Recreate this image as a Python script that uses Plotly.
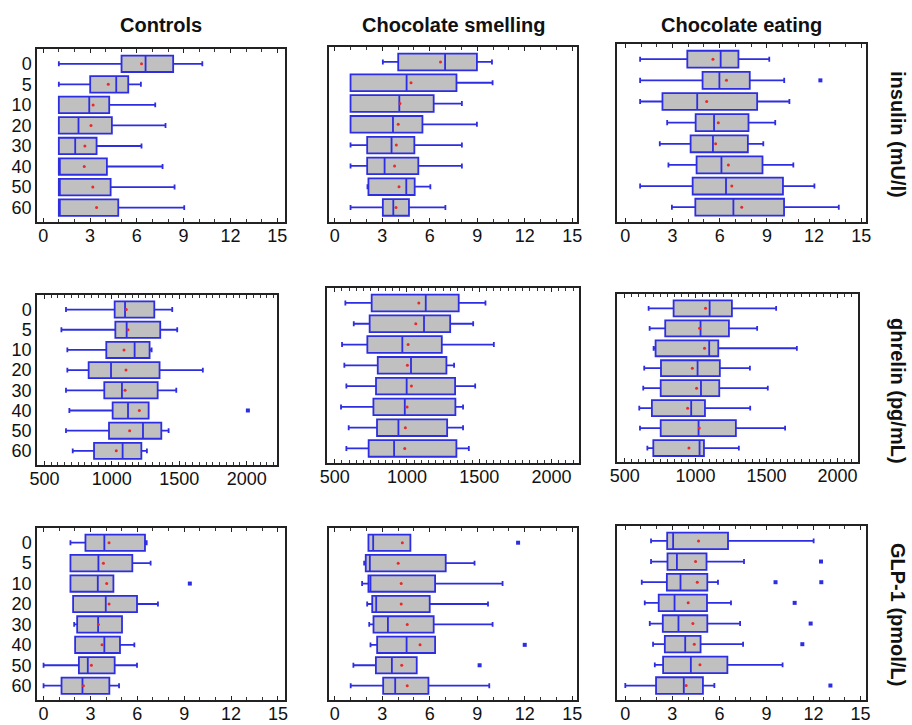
import plotly.graph_objects as go

W, H = 912, 725

times = ["0", "5", "10", "20", "30", "40", "50", "60"]
groups = ["Controls", "Chocolate smelling", "Chocolate eating"]
hormones = ["insulin (mU/l)", "ghrelin (pg/mL)", "GLP-1 (pmol/L)"]

# ---------------- insulin (mU/l) ----------------
ins_c_lo   = [1.0, 1.0, 1.0, 1.0, 1.0, 1.0, 1.0, 1.0]
ins_c_q1   = [5.02, 3.01, 1.0, 1.0, 1.0, 1.0, 1.0, 1.0]
ins_c_med  = [6.56, 4.68, 2.95, 2.26, 2.05, 1.0, 1.0, 1.0]
ins_c_q3   = [8.33, 5.45, 4.23, 4.40, 3.42, 4.08, 4.32, 4.81]
ins_c_hi   = [10.2, 6.26, 7.18, 7.84, 6.30, 7.65, 8.42, 9.04]
ins_c_mean = [6.30, 4.17, 3.20, 3.06, 2.67, 2.63, 3.18, 3.42]
ins_c_out_t, ins_c_out_v = [], []

ins_s_lo   = [3.04, 1.0, 1.0, 1.0, 1.0, 1.0, 2.07, 1.0]
ins_s_q1   = [4.01, 1.0, 1.0, 1.0, 2.05, 2.05, 2.13, 3.04]
ins_s_med  = [6.97, 4.54, 4.08, 3.68, 3.59, 3.15, 4.52, 3.70]
ins_s_q3   = [8.98, 7.69, 6.25, 5.54, 5.03, 5.28, 5.05, 4.69]
ins_s_hi   = [9.93, 9.97, 8.03, 8.98, 8.03, 8.03, 6.04, 6.99]
ins_s_mean = [6.68, 4.82, 4.12, 4.01, 3.89, 3.78, 4.06, 3.87]
ins_s_out_t, ins_s_out_v = [], []

ins_e_lo   = [0.94, 0.94, 0.94, 2.66, 2.19, 2.74, 0.94, 2.96]
ins_e_q1   = [3.94, 4.91, 2.36, 4.47, 4.15, 4.53, 4.28, 4.45]
ins_e_med  = [6.06, 5.98, 4.57, 5.64, 5.57, 6.11, 6.40, 6.87]
ins_e_q3   = [7.19, 7.91, 8.38, 7.83, 7.79, 8.72, 10.02, 10.09]
ins_e_hi   = [9.15, 10.1, 10.43, 9.53, 8.77, 10.68, 12.02, 13.57]
ins_e_mean = [5.57, 6.43, 5.17, 5.91, 5.74, 6.55, 6.77, 7.40]
ins_e_out_t, ins_e_out_v = ["5"], [12.4]

# ---------------- ghrelin (pg/mL) ----------------
ghr_c_lo   = [660, 626, 670, 670, 660, 685, 660, 710]
ghr_c_q1   = [1021, 1026, 959, 828, 944, 1006, 979, 868]
ghr_c_med  = [1098, 1110, 1169, 994, 1075, 1120, 1231, 1080]
ghr_c_q3   = [1315, 1359, 1280, 1354, 1340, 1273, 1367, 1219]
ghr_c_hi   = [1448, 1485, 1295, 1675, 1478, 1273, 1421, 1260]
ghr_c_mean = [1107, 1120, 1090, 1105, 1098, 1204, 1132, 1033]
ghr_c_out_t, ghr_c_out_v = ["40"], [2009]

ghr_s_lo   = [574, 632, 551, 567, 581, 544, 597, 581]
ghr_s_q1   = [756, 742, 726, 798, 786, 768, 793, 735]
ghr_s_med  = [1130, 1118, 968, 1028, 998, 985, 941, 911]
ghr_s_q3   = [1358, 1299, 1241, 1273, 1333, 1335, 1278, 1342]
ghr_s_hi   = [1543, 1458, 1601, 1326, 1472, 1388, 1388, 1428]
ghr_s_mean = [1082, 1061, 1008, 1003, 1031, 1001, 989, 985]
ghr_s_out_t, ghr_s_out_v = [], []

ghr_e_lo   = [669, 676, 704, 638, 631, 603, 608, 660]
ghr_e_q1   = [845, 786, 718, 756, 754, 692, 754, 702]
ghr_e_med  = [1099, 1035, 1096, 1014, 1038, 969, 1021, 1028]
ghr_e_q3   = [1256, 1235, 1160, 1171, 1167, 1066, 1284, 1059]
ghr_e_hi   = [1568, 1434, 1714, 1383, 1509, 1385, 1631, 1305]
ghr_e_mean = [1070, 1028, 1063, 977, 1007, 944, 1026, 953]
ghr_e_out_t, ghr_e_out_v = [], []

# ---------------- GLP-1 (pmol/L) ----------------
glp_c_lo   = [1.72, 1.72, 1.72, 1.89, 1.96, 2.02, 0.0, 0.0]
glp_c_q1   = [2.68, 1.72, 1.72, 1.89, 2.15, 2.02, 2.26, 1.15]
glp_c_med  = [3.89, 3.51, 3.47, 3.98, 3.49, 3.89, 2.83, 2.49]
glp_c_q3   = [6.49, 5.68, 4.47, 5.98, 5.02, 4.89, 4.55, 4.21]
glp_c_hi   = [6.60, 6.85, 4.47, 7.32, 5.02, 5.81, 5.98, 4.83]
glp_c_mean = [4.19, 3.83, 4.04, 4.19, 3.51, 3.74, 3.06, 2.55]
glp_c_out_t, glp_c_out_v = ["10"], [9.36]

glp_s_lo   = [2.13, 1.86, 1.73, 2.05, 2.18, 2.26, 1.18, 1.01]
glp_s_q1   = [2.13, 1.96, 2.13, 2.37, 2.45, 2.68, 2.60, 3.06]
glp_s_med  = [2.43, 2.22, 2.26, 2.62, 3.36, 4.54, 3.61, 3.82]
glp_s_q3   = [4.78, 7.01, 6.34, 6.00, 6.25, 6.34, 5.18, 5.92]
glp_s_hi   = [4.78, 8.83, 10.6, 9.68, 9.97, 6.34, 5.18, 9.76]
glp_s_mean = [4.27, 4.01, 4.20, 4.20, 4.58, 5.39, 4.23, 4.58]
glp_s_out_t, glp_s_out_v = ["0", "40", "50"], [11.58, 12.0, 9.15]

glp_e_lo   = [1.64, 1.64, 1.05, 1.24, 1.56, 1.77, 1.88, 0.0]
glp_e_q1   = [2.67, 2.69, 2.65, 2.13, 2.39, 2.52, 2.41, 1.96]
glp_e_med  = [3.05, 3.29, 3.52, 3.14, 3.39, 3.82, 4.18, 3.73]
glp_e_q3   = [6.55, 5.18, 5.23, 5.21, 5.23, 4.80, 6.51, 4.95]
glp_e_hi   = [12.01, 7.57, 5.91, 6.74, 7.32, 7.51, 10.03, 5.68]
glp_e_mean = [4.67, 4.48, 4.59, 4.01, 4.31, 4.40, 4.76, 3.88]
glp_e_out_t = ["5", "10", "10", "20", "30", "40", "60"]
glp_e_out_v = [12.48, 9.58, 12.5, 10.8, 11.82, 11.29, 13.08]

panels = [
    [(ins_c_lo, ins_c_q1, ins_c_med, ins_c_q3, ins_c_hi, ins_c_mean, ins_c_out_t, ins_c_out_v),
     (ins_s_lo, ins_s_q1, ins_s_med, ins_s_q3, ins_s_hi, ins_s_mean, ins_s_out_t, ins_s_out_v),
     (ins_e_lo, ins_e_q1, ins_e_med, ins_e_q3, ins_e_hi, ins_e_mean, ins_e_out_t, ins_e_out_v)],
    [(ghr_c_lo, ghr_c_q1, ghr_c_med, ghr_c_q3, ghr_c_hi, ghr_c_mean, ghr_c_out_t, ghr_c_out_v),
     (ghr_s_lo, ghr_s_q1, ghr_s_med, ghr_s_q3, ghr_s_hi, ghr_s_mean, ghr_s_out_t, ghr_s_out_v),
     (ghr_e_lo, ghr_e_q1, ghr_e_med, ghr_e_q3, ghr_e_hi, ghr_e_mean, ghr_e_out_t, ghr_e_out_v)],
    [(glp_c_lo, glp_c_q1, glp_c_med, glp_c_q3, glp_c_hi, glp_c_mean, glp_c_out_t, glp_c_out_v),
     (glp_s_lo, glp_s_q1, glp_s_med, glp_s_q3, glp_s_hi, glp_s_mean, glp_s_out_t, glp_s_out_v),
     (glp_e_lo, glp_e_q1, glp_e_med, glp_e_q3, glp_e_hi, glp_e_mean, glp_e_out_t, glp_e_out_v)],
]

# panel frames in pixels: (left, right, top, bottom)
frames = [
    [(37, 285, 49, 222), (329, 577, 47, 222), (617, 866, 44, 222)],
    [(37, 277, 295, 465), (327, 579, 288, 463), (617, 858, 294, 462)],
    [(37, 285, 528, 700), (329, 577, 528, 700), (617, 866, 526, 700)],
]
xranges = [
    [[-0.4, 15.5], [-0.36, 15.3], [-0.53, 15.3]],
    [[445, 2225], [447, 2190], [446, 2145]],
    [[-0.42, 15.45], [-0.36, 15.3], [-0.53, 15.35]],
]
xticks_conc = [0, 3, 6, 9, 12, 15]
xticks_ghr = [500, 1000, 1500, 2000]

BLUE = "rgb(45,45,225)"
GRAY = "rgb(192,192,192)"
RED = "rgb(235,40,40)"
FONT = "Liberation Sans, Arial, sans-serif"

fig = go.Figure()
layout = {}
for r in range(3):
    for c in range(3):
        k = r * 3 + c + 1
        xa = "x" if k == 1 else f"x{k}"
        ya = "y" if k == 1 else f"y{k}"
        lo, q1, med, q3, hi, mean, out_t, out_v = panels[r][c]
        fig.add_trace(go.Box(
            y=times, q1=q1, median=med, q3=q3, lowerfence=lo, upperfence=hi,
            orientation="h", boxpoints=False, width=0.8, whiskerwidth=0.3,
            fillcolor=GRAY, line=dict(color=BLUE, width=1.8),
            xaxis=xa, yaxis=ya, showlegend=False, hoverinfo="skip"))
        fig.add_trace(go.Scatter(
            x=mean, y=times, mode="markers",
            marker=dict(color=RED, size=3, symbol="circle"),
            xaxis=xa, yaxis=ya, showlegend=False, hoverinfo="skip"))
        if out_t:
            fig.add_trace(go.Scatter(
                x=out_v, y=out_t, mode="markers",
                marker=dict(color=BLUE, size=4, symbol="square"),
                xaxis=xa, yaxis=ya, showlegend=False, hoverinfo="skip"))
        L, R, T, B = frames[r][c]
        tv = xticks_ghr if r == 1 else xticks_conc
        minor_d = 50 if r == 1 else 1
        layout["xaxis" if k == 1 else f"xaxis{k}"] = dict(
            domain=[L / W, R / W], anchor=ya, range=xranges[r][c],
            tickmode="array", tickvals=tv, ticks="inside", ticklen=4, tickwidth=1.2, tickcolor="#222",
            minor=dict(dtick=minor_d, tick0=0, ticks="inside", ticklen=3, tickwidth=1, tickcolor="#333"),
            showline=True, linecolor="#222", linewidth=1.5, mirror="ticks",
            showgrid=False, zeroline=False, automargin=False, ticklabelstandoff=-3,
            tickfont=dict(size=18, color="#111", family=FONT))
        layout["yaxis" if k == 1 else f"yaxis{k}"] = dict(
            domain=[1 - B / H, 1 - T / H], anchor=xa,
            type="category", categoryorder="array", categoryarray=times,
            tickmode="array", tickvals=times, ticktext=times,
            range=[7.7, -0.72],
            showticklabels=(c == 0), ticks="",
            showline=True, linecolor="#222", linewidth=1.5, mirror=True,
            showgrid=False, zeroline=False, automargin=False,
            tickfont=dict(size=18, color="#111", family=FONT))

annotations = []
title_x = [161, 453, 741]
for c in range(3):
    annotations.append(dict(
        text=f"<b>{groups[c]}</b>", x=title_x[c] / W, y=1 - 25 / H,
        xref="paper", yref="paper", xanchor="center", yanchor="middle",
        showarrow=False, font=dict(size=20, color="#111", family=FONT)))
label_y = [134, 391, 614]
for r in range(3):
    annotations.append(dict(
        text=f"<b>{hormones[r]}</b>", x=898 / W, y=1 - label_y[r] / H,
        xref="paper", yref="paper", xanchor="center", yanchor="middle",
        textangle=90, showarrow=False, font=dict(size=20, color="#111", family=FONT)))

fig.update_layout(
    width=W, height=H, margin=dict(l=0, r=0, t=0, b=0, autoexpand=False),
    paper_bgcolor="white", plot_bgcolor="white",
    annotations=annotations, **layout)

fig.write_html(
    "out.html",
    config={"displayModeBar": False},
    post_script="document.body.style.margin='0px';document.body.style.overflow='hidden';")
